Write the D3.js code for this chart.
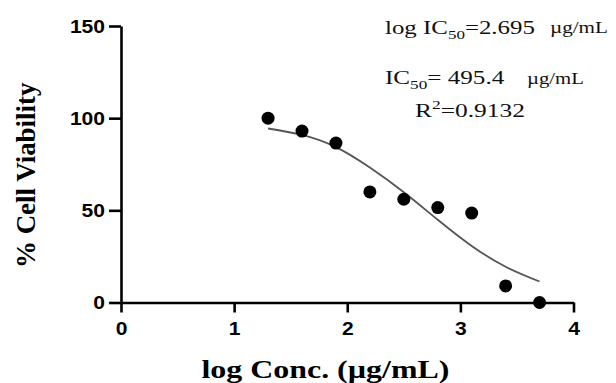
<!DOCTYPE html>
<html lang="en">
<head>
<meta charset="UTF-8" />
<title>Cell Viability</title>
<style>
  body { margin: 0; background: #fff; }
  .tick text { font-family: "Liberation Sans", Arial, sans-serif; font-weight: bold; font-size: 18px; fill: #000; }
  .domain, .tick line { stroke: #000; stroke-width: 2.6px; }
  .serif { font-family: "Liberation Serif", "Times New Roman", serif; fill: #111; }
</style>
</head>
<body>
<svg id="chart" width="616" height="383"></svg>
<script src="https://cdn.jsdelivr.net/npm/d3@7"></script>
<script>
// measured points
var logConc = [1.3, 1.6, 1.9, 2.2, 2.5, 2.8, 3.1, 3.4, 3.7];
var viability = [100, 93, 86.5, 60, 56, 51.5, 48.5, 9, 0];

// fitted curve
var fitX = [1.3, 1.6, 1.9, 2.2, 2.5, 2.8, 3.1, 3.4, 3.7];
var fitY = [94.4, 90.9, 84.3, 73.2, 59.8, 44.9, 30.7, 19.4, 11.4];

var xTicks = [0, 1, 2, 3, 4];
var yTicks = [0, 50, 100, 150];

var margin = {top: 26, left: 121};
var width = 452.5, height = 276.5;

var svg = d3.select("#chart");
var g = svg.append("g")
  .attr("transform", "translate(" + margin.left + "," + margin.top + ")");

var xScale = d3.scaleLinear().domain([0, 4]).range([0, width]);
var yScale = d3.scaleLinear().domain([0, 150]).range([height, 0]);

// stretch a text so it spans a given width (source picture is wider than the fonts)
function fit(sel, x, y, w, rot) {
  var bw = sel.node().getBBox().width;
  var s = w / bw;
  sel.attr("transform", "translate(" + x + "," + y + ")" + (rot ? " rotate(-90)" : "") + " scale(" + s + ",1)");
}

// y axis
var yAxis = g.append("g")
  .call(d3.axisLeft(yScale).tickValues(yTicks).tickFormat(d3.format("d")).tickSize(12).tickSizeOuter(0));
yAxis.selectAll("text").attr("x", -16 / 1.17).attr("dy", "0.36em").attr("transform", "scale(1.17,1)");

// x axis
var xAxis = g.append("g")
  .attr("transform", "translate(0," + height + ")")
  .call(d3.axisBottom(xScale).tickValues(xTicks).tickFormat(d3.format("d")).tickSize(10).tickSizeOuter(0));
xAxis.selectAll("text").attr("y", 33).attr("dy", 0).attr("transform", "scale(1.17,1)");

// fit curve
var line = d3.line()
  .x(function(d, i) { return xScale(fitX[i]); })
  .y(function(d) { return yScale(d); })
  .curve(d3.curveNatural);

g.append("path")
  .datum(fitY)
  .attr("d", line)
  .attr("fill", "none")
  .attr("stroke", "#555")
  .attr("stroke-width", 1.8);

// dots
g.selectAll("circle")
  .data(viability)
  .enter().append("circle")
  .attr("cx", function(d, i) { return xScale(logConc[i]); })
  .attr("cy", function(d) { return yScale(d); })
  .attr("r", 6.5)
  .attr("fill", "#000");

// axis titles
var xt = svg.append("text").attr("class", "serif")
  .style("font-size", "25px").style("font-weight", "bold").style("fill", "#000")
  .text("log Conc. (µg/mL)");
fit(xt, 201.5, 377.5, 248);

var yt = svg.append("text").attr("class", "serif")
  .style("font-size", "27px").style("font-weight", "bold").style("fill", "#000")
  .text("% Cell Viability");
fit(yt, 35, 268, 186, true);

// annotations
function annot(x, y, w, parts) {
  var t = svg.append("text").attr("class", "serif").style("font-size", "19px");
  parts.forEach(function(p) {
    var ts = t.append("tspan").text(p[0]);
    if (p[1] == "sub") ts.style("font-size", "13px").attr("dy", 5);
    if (p[1] == "sup") ts.style("font-size", "13px").attr("dy", -8);
    if (p[1] == "back") ts.attr("dy", p[2]);
  });
  fit(t, x, y, w);
}

annot(385, 34, 150, [["log IC"], ["50", "sub"], ["=2.695", "back", -5]]);
annot(385, 84, 120, [["IC"], ["50", "sub"], ["= 495.4", "back", -5]]);
annot(415, 117, 110, [["R"], ["2", "sup"], ["=0.9132", "back", 8]]);

var u1 = svg.append("text").attr("class", "serif").style("font-size", "16px").text("µg/mL");
fit(u1, 550, 33, 58);
var u2 = svg.append("text").attr("class", "serif").style("font-size", "16px").text("µg/mL");
fit(u2, 527, 83.5, 57);
</script>
</body>
</html>
